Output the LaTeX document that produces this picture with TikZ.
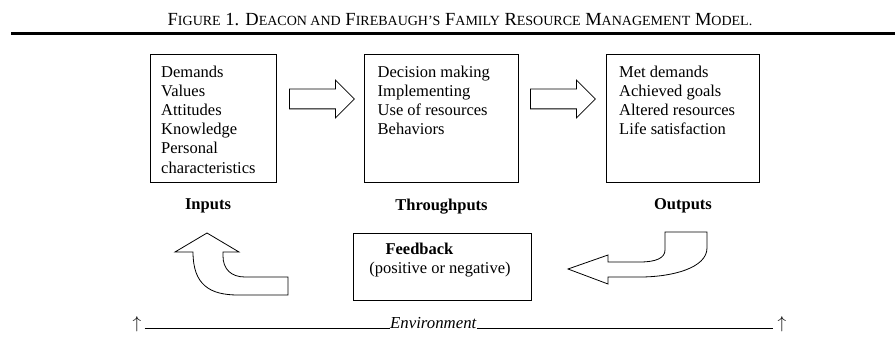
\documentclass[tikz,border=0pt]{standalone}
\usepackage{fontspec}
\setmainfont{Liberation Serif}
\usepackage{tikz}
\usetikzlibrary{positioning}
\usetikzlibrary{calc}
\usetikzlibrary{shapes.arrows}

\newcommand{\smc}[1]{{\fontsize{14}{16}\selectfont #1}}

\tikzset{
  blk/.style={draw, rectangle, line width=1, inner sep=0},
  lst/.style={align=left, inner sep=0, font=\fontsize{16.5}{19.2}\selectfont},
  hd/.style={inner sep=0, font=\fontsize{16.5}{19.2}\selectfont\bfseries},
  fat/.style={draw, single arrow, line width=0.8, minimum height=65pt, minimum width=37pt,
    single arrow head extend=9pt, inner xsep=0pt, inner ysep=9.5pt, text height=0pt, text depth=0pt},
  curl/.style={draw, line width=0.8, line join=miter}
}

\begin{document}
\begin{tikzpicture}[x=1pt, y=-1pt]
        \useasboundingbox (0,0) rectangle (895,350);

        % title %
        \node[anchor=base, inner sep=0, font=\fontsize{18.5}{20}\selectfont] (title) at (460,26)
          {F\smc{IGURE} 1. D\smc{EACON AND} F\smc{IREBAUGH'S} F\smc{AMILY} R\smc{ESOURCE} M\smc{ANAGEMENT} M\smc{ODEL.}};
        \coordinate (rl) at (11,33.5);
        \coordinate (rr) at (895,33.5);
        \draw[line width=2.7] (rl) -- (rr);

        % nodes %
        \node[blk, minimum width=126pt, minimum height=128pt, anchor=north west] (inb) at (150,54) {};
        \node[blk, minimum width=154pt, minimum height=128pt, right=87pt of inb] (thb) {};
        \node[blk, minimum width=153pt, minimum height=128pt, right=87pt of thb] (otb) {};

        \node[lst, below right=11.4pt and 11pt of inb.north west] (inl)
          {Demands\\Values\\Attitudes\\Knowledge\\Personal\\characteristics};
        \node[lst, below right=11.4pt and 13.5pt of thb.north west] (thl)
          {Decision making\\Implementing\\Use of resources\\Behaviors};
        \node[lst, below right=11.4pt and 13pt of otb.north west] (otl)
          {Met demands\\Achieved goals\\Altered resources\\Life satisfaction};

        \node[hd, below=15.4pt of inb, xshift=-5.5pt] (inp) {Inputs};
        \node[hd, below=15.4pt of thb] (thp) {Throughputs};
        \node[hd, below=15.4pt of otb] (otp) {Outputs};

        \node[blk, minimum width=178pt, minimum height=67pt, anchor=north west] (fbb) at (353,233) {};
        \node[hd, below=9.7pt of fbb.north, xshift=-23pt] (fbt) {Feedback};
        \node[lst, anchor=base] (fbs) at ($(fbt.base)+(20.5,18.7)$) {(positive or negative)};

        % edges %
        \node[fat, right=12pt of inb.east, yshift=19.5pt] (a1) {};
        \node[fat, right=11pt of thb.east, yshift=19.5pt] (a2) {};
        \draw[curl] (223,252) -- (239,252) -- (207,233) -- (175,252) -- (193,252)
          .. controls (193,285) and (210,295) .. (238,295) -- (288,295) -- (288,277) -- (245,277)
          .. controls (231,277) and (223,269) .. (223,256) -- cycle;
        \draw[curl] (665,232) -- (707,232) -- (707,248)
          .. controls (707,268) and (672,277) .. (640,277) -- (608,277) -- (608,284) -- (568,269)
          -- (608,255) -- (608,262) -- (640,262) .. controls (656,262) and (665,258) .. (665,250) -- cycle;

        % environment %
        \node[inner ysep=0, inner xsep=3pt, anchor=base, font=\fontsize{16.5}{18}\selectfont] (el) at (137,328) {$\uparrow$};
        \node[inner sep=0, anchor=base west, font=\fontsize{16.8}{18}\selectfont\itshape] (env) at (390,328) {Environment};
        \node[inner ysep=0, inner xsep=4pt, anchor=base, font=\fontsize{16.5}{18}\selectfont] (er) at (782,328) {$\uparrow$};
        \draw[line width=1] (el.base east) -- (env.base west);
        \draw[line width=1] (env.base east) -- (er.base west);
\end{tikzpicture}
\end{document}
